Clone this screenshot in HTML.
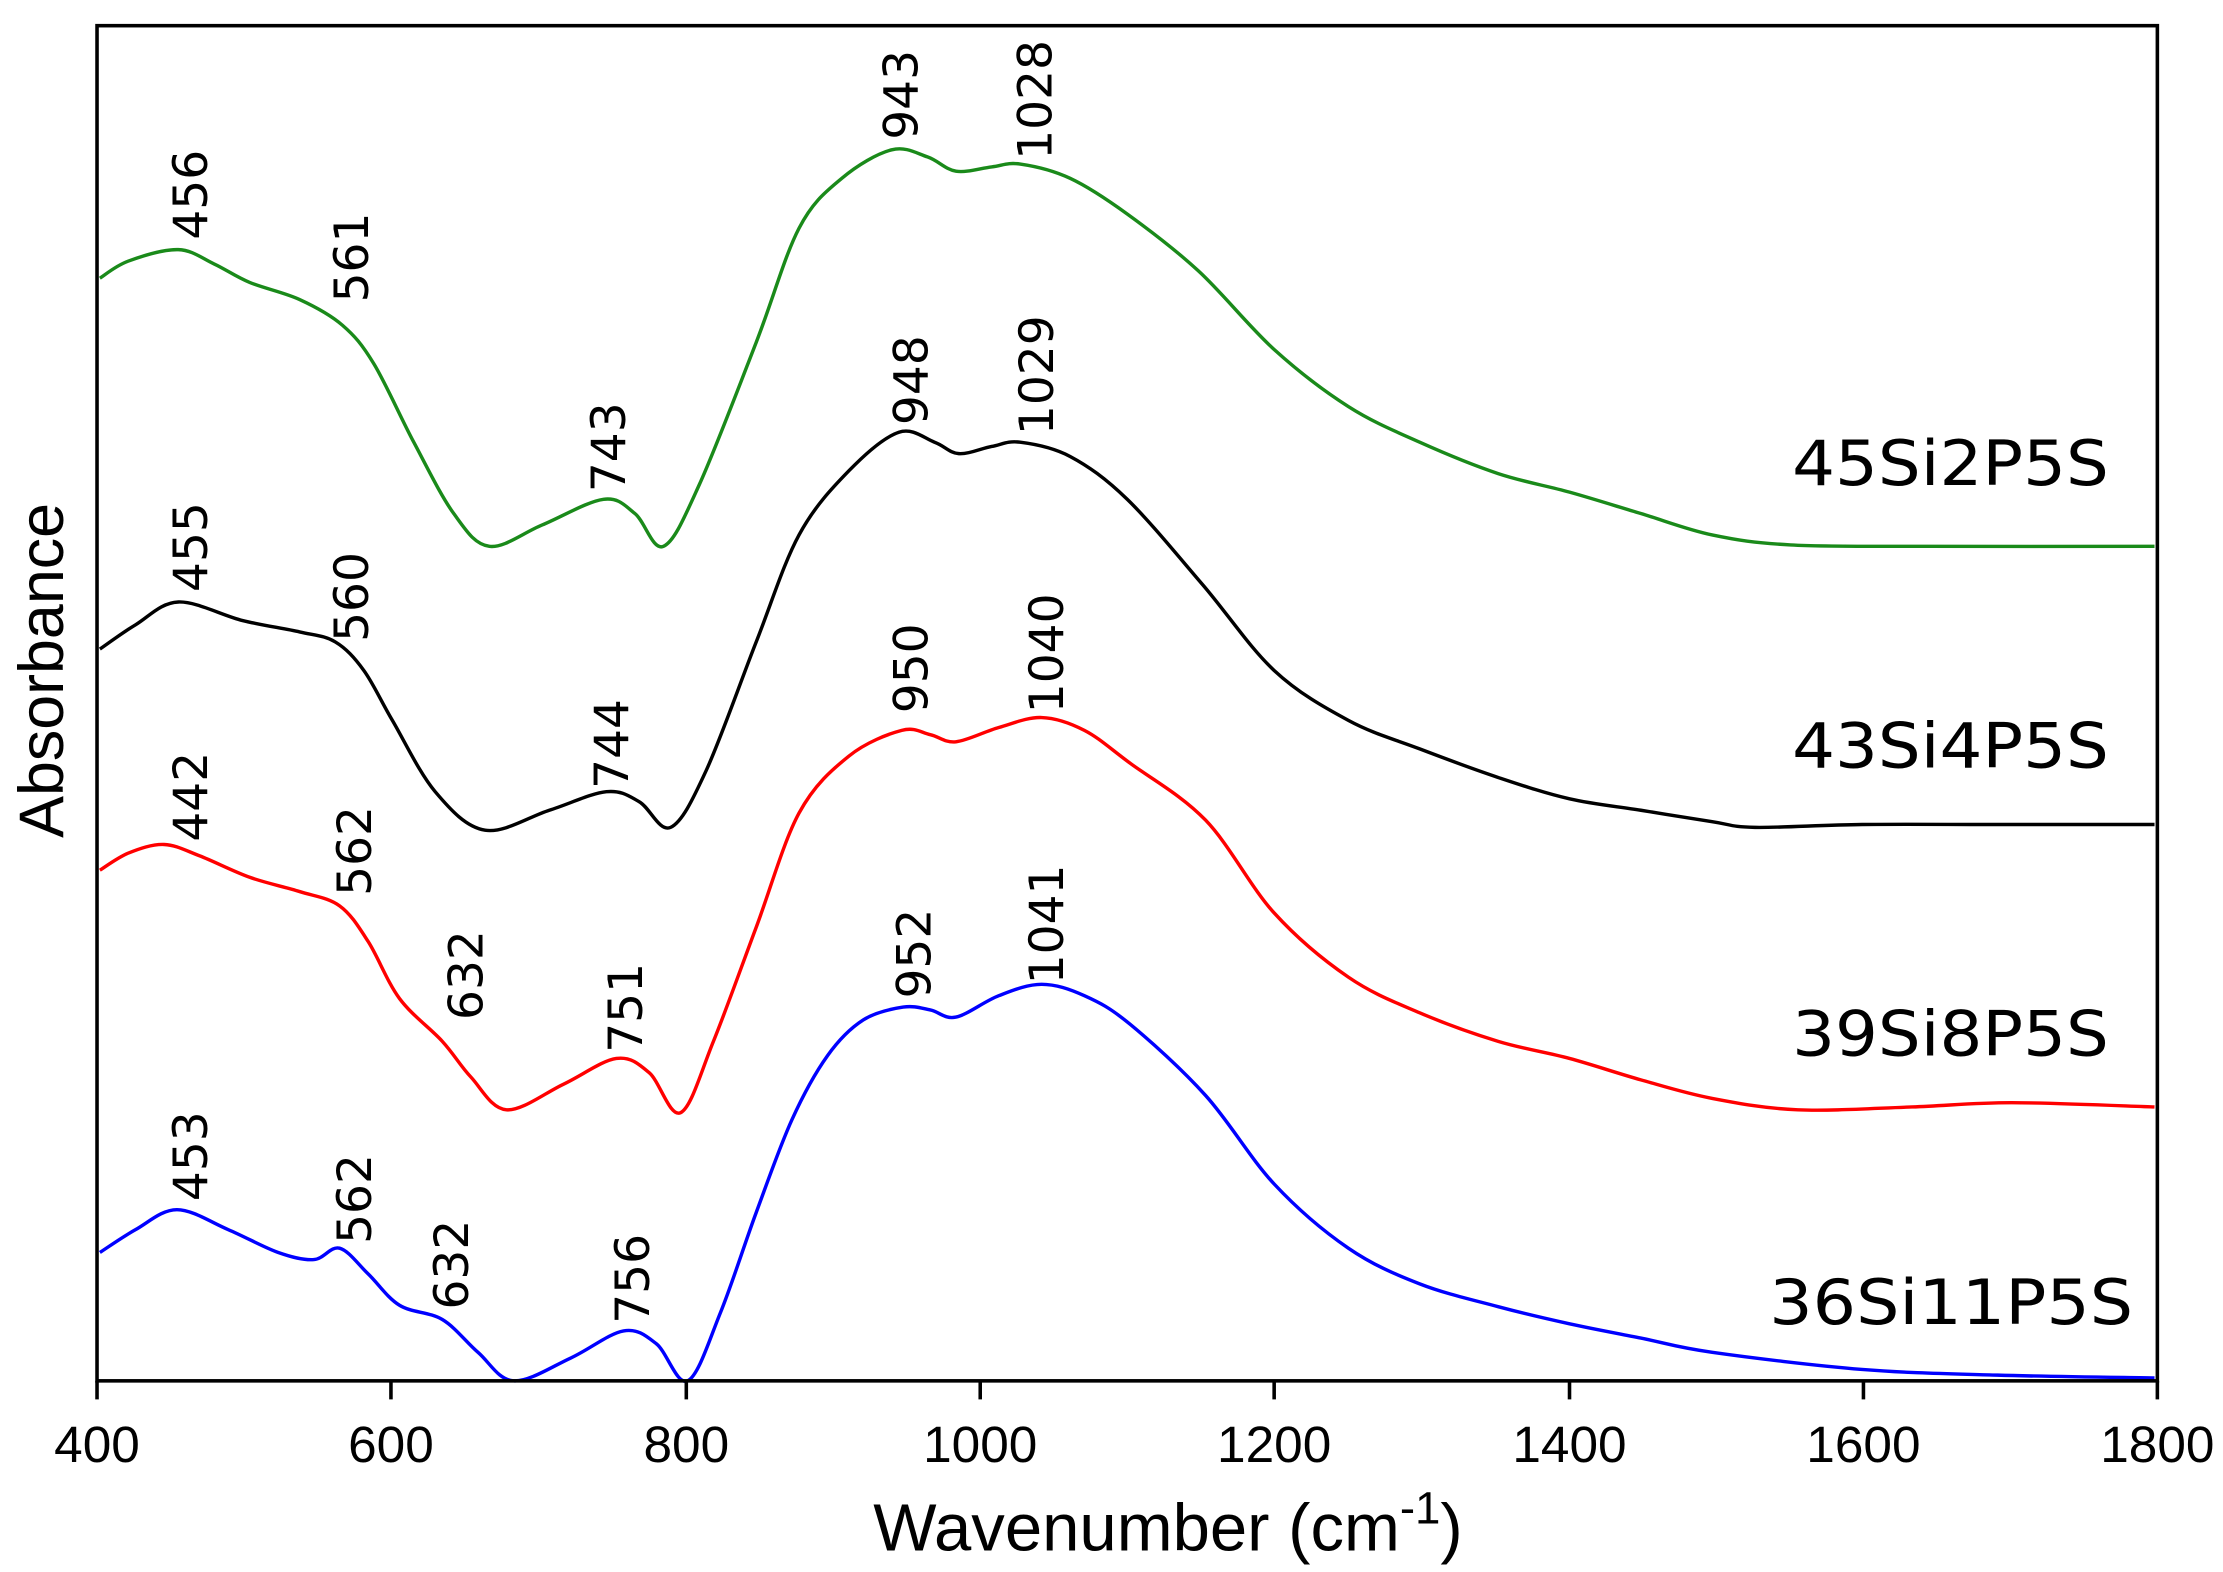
<!DOCTYPE html>
<html><head><meta charset="utf-8"><style>
html,body{margin:0;padding:0;background:#fff;}
svg{display:block;}
text{font-family:"DejaVu Sans","Liberation Sans",sans-serif;fill:#000;}
text.l{font-family:"Liberation Sans",sans-serif;}
</style></head><body>
<svg id="s" width="2223" height="1572" viewBox="0 0 1558 1102" preserveAspectRatio="none" xmlns="http://www.w3.org/2000/svg">
<rect x="0" y="0" width="1558" height="1102" fill="#fff"/>
<g id="curves" fill="none" stroke-width="2.4" stroke-linejoin="round"></g>
<rect x="68" y="18" width="1444" height="950" fill="none" stroke="#000" stroke-width="2.5"/>
<g stroke="#000" stroke-width="2.5">
<line x1="68" y1="968" x2="68" y2="981"/><line x1="274" y1="968" x2="274" y2="981"/>
<line x1="481" y1="968" x2="481" y2="981"/><line x1="687" y1="968" x2="687" y2="981"/>
<line x1="893" y1="968" x2="893" y2="981"/><line x1="1100" y1="968" x2="1100" y2="981"/>
<line x1="1306" y1="968" x2="1306" y2="981"/><line x1="1512" y1="968" x2="1512" y2="981"/>
</g>
<g font-size="36" text-anchor="middle">
<text class="l" x="68" y="1025">400</text><text class="l" x="274" y="1025">600</text><text class="l" x="481" y="1025">800</text>
<text class="l" x="687" y="1025">1000</text><text class="l" x="893" y="1025">1200</text><text class="l" x="1100" y="1025">1400</text>
<text class="l" x="1306" y="1025">1600</text><text class="l" x="1512" y="1025">1800</text>
</g>
<text class="l" x="612" y="1087" font-size="47">Wavenumber (cm<tspan font-size="32" dy="-19">-1</tspan><tspan dy="19" font-size="47">)</tspan></text>
<text class="l" transform="translate(44,470) rotate(-90)" font-size="44" text-anchor="middle">Absorbance</text>
<g font-size="44" text-anchor="end">
<text x="1478" y="340" textLength="222" lengthAdjust="spacingAndGlyphs">45Si2P5S</text>
<text x="1478" y="538" textLength="222" lengthAdjust="spacingAndGlyphs">43Si4P5S</text>
<text x="1478" y="740" textLength="222" lengthAdjust="spacingAndGlyphs">39Si8P5S</text>
<text x="1495" y="928" textLength="255" lengthAdjust="spacingAndGlyphs">36Si11P5S</text>
</g>
<g id="labels" font-size="33"></g>
</svg>
<script>
function path(pts){
  let d="M"+pts[0][0]+","+pts[0][1];
  for(let i=0;i<pts.length-1;i++){
    const p0=pts[i-1]||pts[i],p1=pts[i],p2=pts[i+1],p3=pts[i+2]||p2;
    const c1=[p1[0]+(p2[0]-p0[0])/6,p1[1]+(p2[1]-p0[1])/6];
    const c2=[p2[0]-(p3[0]-p1[0])/6,p2[1]-(p3[1]-p1[1])/6];
    d+=" C"+c1+" "+c2+" "+p2;
  }
  return d;
}
const series=[
["#1a8a1a",[[70,195],[90,183],[125,175],[150,185],[175,198],[210,210],[240,228],[262,255],[290,310],[318,360],[343,383],[380,368],[423,350],[445,360],[465,383],[490,340],[530,240],[560,160],[590,125],[625,105],[650,110],[670,120],[695,117],[715,115],[750,125],[790,150],[840,190],[893,245],[945,285],[995,310],[1050,332],[1100,345],[1150,360],[1200,375],[1255,382],[1350,383],[1510,383]]],
["#000",[[70,455],[95,438],[125,422],[170,435],[210,443],[235,450],[255,470],[275,505],[305,555],[340,582],[385,568],[425,555],[448,562],[470,580],[495,540],[530,450],[560,375],[595,330],[630,303],[655,310],[672,318],[695,313],[715,310],[750,320],[790,350],[843,410],[893,470],[945,505],[995,525],[1050,545],[1100,560],[1150,568],[1200,576],[1230,580],[1305,578],[1400,578],[1510,578]]],
["#f00",[[70,610],[90,598],[115,592],[140,600],[175,615],[210,625],[238,635],[258,660],[280,700],[310,730],[330,755],[355,778],[395,760],[432,742],[455,752],[477,780],[500,730],[530,650],[560,570],[595,530],[632,512],[652,515],[670,520],[700,510],[730,503],[760,512],[792,535],[845,575],[893,640],[945,685],[995,710],[1050,730],[1100,742],[1150,757],[1200,770],[1260,778],[1340,776],[1410,773],[1510,776]]],
["#00f",[[70,878],[95,862],[124,848],[160,862],[195,878],[220,883],[238,875],[258,893],[280,915],[310,925],[335,948],[360,968],[400,952],[437,933],[460,942],[482,968],[505,920],[530,850],[555,785],[580,740],[605,715],[633,706],[652,708],[670,713],[700,698],[730,690],[760,698],[792,718],[845,768],[893,830],[945,875],[995,900],[1050,916],[1100,928],[1150,938],[1200,948],[1305,960],[1400,964],[1510,966]]]
];
const g=document.getElementById("curves");
series.forEach(s=>{const p=document.createElementNS("http://www.w3.org/2000/svg","path");p.setAttribute("d",path(s[1]));p.setAttribute("stroke",s[0]);g.appendChild(p);});
const labels=[["456",145,168],["561",258,212],["743",438,345],["943",643,98],["1028",737,112],
["948",650,298],["1029",738,305],["455",145,415],["560",258,450],["744",440,553],
["950",650,500],["1040",745,500],["442",145,590],["562",260,628],["632",338,715],["751",450,738],
["952",652,700],["1041",745,690],["453",145,842],["562",260,872],["632",328,918],["756",455,928]];
const lg=document.getElementById("labels");
labels.forEach(l=>{const t=document.createElementNS("http://www.w3.org/2000/svg","text");t.setAttribute("transform","translate("+l[1]+","+l[2]+") rotate(-90)");t.textContent=l[0];lg.appendChild(t);});
</script>
</body></html>
